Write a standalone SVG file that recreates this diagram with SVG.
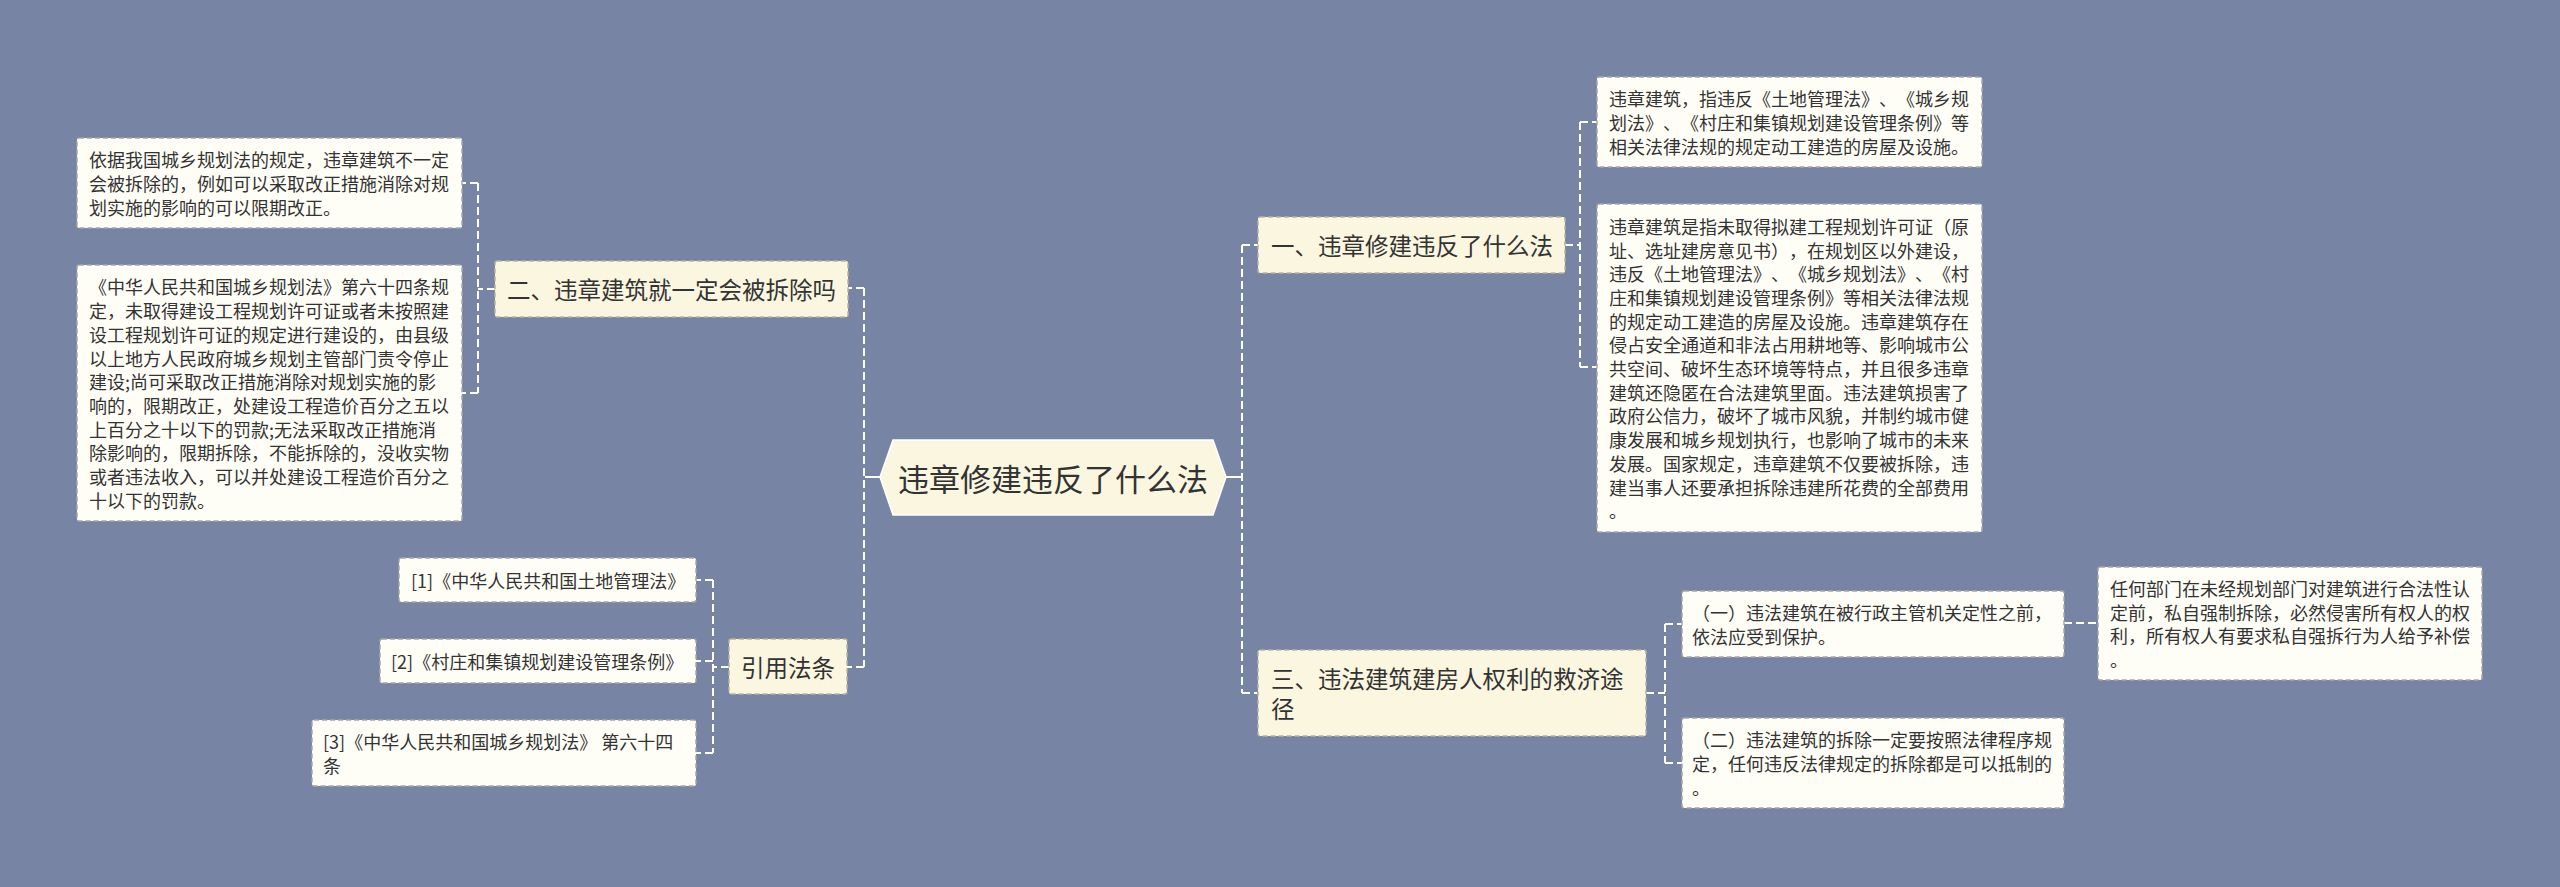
<svg xmlns="http://www.w3.org/2000/svg" width="2560" height="887" viewBox="0 0 2560 887">
<style>
.bg{fill:#7884a4}
.leaf{fill:#fffef6;stroke:#a6a6a6;stroke-width:1.5;stroke-dasharray:5 3}
.l1{fill:#fbf6e0;stroke:#b9b49c;stroke-width:1.5;stroke-dasharray:5 3}
.hub{fill:#fbf6e0;stroke:#ffffff;stroke-width:1.5}
.t{font-family:"Noto Sans CJK SC","Microsoft YaHei",sans-serif;fill:#333333;dominant-baseline:central;text-spacing-trim:space-all;font-feature-settings:"chws" 0,"halt" 0,"palt" 0}
.ts{font-size:18px}
.tm{font-size:23.5px}
.tl{font-size:31px}
.c{fill:none;stroke:#ffffff;stroke-width:2;stroke-dasharray:8 4}
.cs{fill:none;stroke:#ffffff;stroke-width:2}
</style>
<rect class="bg" x="0" y="0" width="2560" height="887"/>
<g id="connectors">
<path class="cs" d="M865,477H880M1226,477H1242"/>
<path class="c" d="M864,288V667M864,288H848M864,667H847"/>
<path class="c" d="M1242,245V693M1242,245H1258M1242,693H1257"/>
<path class="c" d="M495,289H478M478,183V393M478,183H462M478,393H462"/>
<path class="c" d="M729,667H713M713,580V753M713,580H696M713,661H696M713,753H696"/>
<path class="c" d="M1565,245H1580M1580,122V367M1580,122H1597M1580,367H1597"/>
<path class="c" d="M1646,693H1665M1665,624V763M1665,624H1682M1665,763H1682"/>
<path class="c" d="M2064,623H2098"/>
</g>
<g id="center">
<polygon class="hub" points="880,477 893,440 1213,440 1226,477 1213,515 893,515"/>
<text class="t tl" x="1053" y="477" text-anchor="middle">违章修建违反了什么法</text>
</g>
<g id="n2">
<rect class="l1" x="495" y="261" width="353" height="56" rx="2"/>
<text class="t tm" x="507" y="289">二、违章建筑就一定会被拆除吗</text>
</g>
<g id="n2a">
<rect class="leaf" x="77" y="138" width="385" height="90" rx="2"/>
<text class="t ts" x="89"><tspan x="89" y="159.3">依据我国城乡规划法的规定，违章建筑不一定</tspan><tspan x="89" y="183">会被拆除的，例如可以采取改正措施消除对规</tspan><tspan x="89" y="206.7">划实施的影响的可以限期改正。</tspan></text>
</g>
<g id="n2b">
<rect class="leaf" x="77" y="265" width="385" height="256" rx="2"/>
<text class="t ts" x="89"><tspan x="89" y="286.4">《中华人民共和国城乡规划法》第六十四条规</tspan><tspan x="89" y="310.1">定，未取得建设工程规划许可证或者未按照建</tspan><tspan x="89" y="333.8">设工程规划许可证的规定进行建设的，由县级</tspan><tspan x="89" y="357.5">以上地方人民政府城乡规划主管部门责令停止</tspan><tspan x="89" y="381.2">建设;尚可采取改正措施消除对规划实施的影</tspan><tspan x="89" y="404.9">响的，限期改正，处建设工程造价百分之五以</tspan><tspan x="89" y="428.6">上百分之十以下的罚款;无法采取改正措施消</tspan><tspan x="89" y="452.3">除影响的，限期拆除，不能拆除的，没收实物</tspan><tspan x="89" y="476">或者违法收入，可以并处建设工程造价百分之</tspan><tspan x="89" y="499.7">十以下的罚款。</tspan></text>
</g>
<g id="n4">
<rect class="l1" x="729" y="639" width="118" height="55" rx="2"/>
<text class="t tm" x="741" y="667">引用法条</text>
</g>
<g id="n4a">
<rect class="leaf" x="399" y="558" width="297" height="44" rx="2"/>
<text class="t ts" x="411" y="580">[1]《中华人民共和国土地管理法》</text>
</g>
<g id="n4b">
<rect class="leaf" x="380" y="639" width="316" height="44" rx="2"/>
<text class="t ts" x="391" y="661">[2]《村庄和集镇规划建设管理条例》</text>
</g>
<g id="n4c">
<rect class="leaf" x="312" y="720" width="384" height="66" rx="2"/>
<text class="t ts" x="323"><tspan x="323" y="741.2">[3]《中华人民共和国城乡规划法》 第六十四</tspan><tspan x="323" y="764.9">条</tspan></text>
</g>
<g id="n1">
<rect class="l1" x="1258" y="217" width="307" height="56" rx="2"/>
<text class="t tm" x="1271" y="245">一、违章修建违反了什么法</text>
</g>
<g id="n1a">
<rect class="leaf" x="1597" y="77" width="385" height="90" rx="2"/>
<text class="t ts" x="1609"><tspan x="1609" y="98.3">违章建筑，指违反《土地管理法》、《城乡规</tspan><tspan x="1609" y="122">划法》、《村庄和集镇规划建设管理条例》等</tspan><tspan x="1609" y="145.7">相关法律法规的规定动工建造的房屋及设施。</tspan></text>
</g>
<g id="n1b">
<rect class="leaf" x="1597" y="204" width="385" height="328" rx="2"/>
<text class="t ts" x="1609"><tspan x="1609" y="225.8">违章建筑是指未取得拟建工程规划许可证（原</tspan><tspan x="1609" y="249.5">址、选址建房意见书），在规划区以外建设，</tspan><tspan x="1609" y="273.2">违反《土地管理法》、《城乡规划法》、《村</tspan><tspan x="1609" y="296.9">庄和集镇规划建设管理条例》等相关法律法规</tspan><tspan x="1609" y="320.6">的规定动工建造的房屋及设施。违章建筑存在</tspan><tspan x="1609" y="344.3">侵占安全通道和非法占用耕地等、影响城市公</tspan><tspan x="1609" y="368">共空间、破坏生态环境等特点，并且很多违章</tspan><tspan x="1609" y="391.7">建筑还隐匿在合法建筑里面。违法建筑损害了</tspan><tspan x="1609" y="415.4">政府公信力，破坏了城市风貌，并制约城市健</tspan><tspan x="1609" y="439.1">康发展和城乡规划执行，也影响了城市的未来</tspan><tspan x="1609" y="462.8">发展。国家规定，违章建筑不仅要被拆除，违</tspan><tspan x="1609" y="486.5">建当事人还要承担拆除违建所花费的全部费用</tspan><tspan x="1609" y="510.2">。</tspan></text>
</g>
<g id="n3">
<rect class="l1" x="1258" y="650" width="388" height="86" rx="2"/>
<text class="t tm" x="1271"><tspan x="1271" y="678">三、违法建筑建房人权利的救济途</tspan><tspan x="1271" y="708">径</tspan></text>
</g>
<g id="n3a">
<rect class="leaf" x="1682" y="591" width="382" height="66" rx="2"/>
<text class="t ts" x="1692"><tspan x="1692" y="612.2">（一）违法建筑在被行政主管机关定性之前，</tspan><tspan x="1692" y="635.9">依法应受到保护。</tspan></text>
</g>
<g id="n3a1">
<rect class="leaf" x="2098" y="567" width="384" height="113" rx="2"/>
<text class="t ts" x="2110"><tspan x="2110" y="588">任何部门在未经规划部门对建筑进行合法性认</tspan><tspan x="2110" y="611.7">定前，私自强制拆除，必然侵害所有权人的权</tspan><tspan x="2110" y="635.4">利，所有权人有要求私自强拆行为人给予补偿</tspan><tspan x="2110" y="659.1">。</tspan></text>
</g>
<g id="n3b">
<rect class="leaf" x="1682" y="718" width="382" height="90" rx="2"/>
<text class="t ts" x="1692"><tspan x="1692" y="739.3">（二）违法建筑的拆除一定要按照法律程序规</tspan><tspan x="1692" y="763">定，任何违反法律规定的拆除都是可以抵制的</tspan><tspan x="1692" y="786.7">。</tspan></text>
</g>
</svg>
